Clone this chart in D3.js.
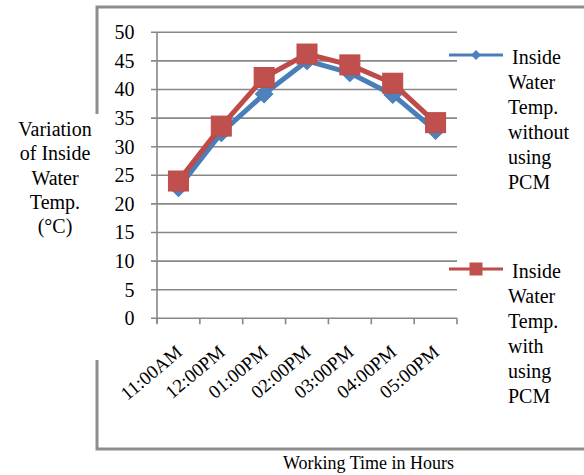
<!DOCTYPE html>
<html>
<head>
<meta charset="utf-8">
<script src="https://cdn.jsdelivr.net/npm/d3@7"></script>
<style>
  body { margin: 0; background: #fff; }
  svg text { font-family: 'Liberation Serif', 'Times New Roman', Times, serif; fill: #000; }
</style>
</head>
<body>
<svg width="584" height="475" font-family="Liberation Serif"></svg>
<script>
let width = 584, height = 475;

// data
let times = ["11:00AM", "12:00PM", "01:00PM", "02:00PM", "03:00PM", "04:00PM", "05:00PM"];
let withoutPCM = [22.8, 32.4, 39.2, 45, 42.9, 39.1, 32.8];
let withPCM = [24, 33.6, 42.1, 46.2, 44.3, 41.1, 34.2];
let yTicks = [0, 5, 10, 15, 20, 25, 30, 35, 40, 45, 50];
let yTitle = ["Variation", "of Inside", "Water", "Temp.", "(°C)"];
let legendWithout = ["Inside", "Water", "Temp.", "without", "using", "PCM"];
let legendWith = ["Inside", "Water", "Temp.", "with", "using", "PCM"];

let svg = d3.select("svg");

let grey = "#878787";
let blue = "#4A7EBB", blueFill = "#4F81BD";
let red = "#BE4B48", redFill = "#C0504D";

// outer frame pieces
let frame = svg.append("g").attr("stroke", "#8e8e8e").attr("stroke-width", 3).attr("fill", "none");
frame.append("path").attr("d", "M97,114 V7 H584");
frame.append("path").attr("d", "M97,360 V449 H584");

let x = d3.scaleBand().domain(times).range([157, 457]);
let y = d3.scaleLinear().domain([0, 50]).range([318.3, 32.3]);

// gridlines
svg.append("g")
    .selectAll("line")
    .data(yTicks)
    .enter()
    .append("line")
    .attr("x1", 151).attr("x2", 457)
    .attr("y1", d => y(d)).attr("y2", d => y(d))
    .attr("stroke", grey)
    .attr("stroke-width", 1.6);

// y axis
svg.append("line")
    .attr("x1", 157).attr("x2", 157)
    .attr("y1", y(50)).attr("y2", y(0) + 5)
    .attr("stroke", grey).attr("stroke-width", 1.6);

svg.append("g")
    .selectAll("text")
    .data(yTicks)
    .enter()
    .append("text")
    .attr("x", 134.5)
    .attr("y", d => y(d))
    .attr("dy", "0.34em")
    .attr("text-anchor", "end")
    .style("font-size", "20px")
    .text(d => d);

// x ticks at band edges
let edges = times.map(d => x(d)).concat([x.range()[1]]);
svg.append("g")
    .selectAll("line")
    .data(edges)
    .enter()
    .append("line")
    .attr("x1", d => d).attr("x2", d => d)
    .attr("y1", y(0)).attr("y2", y(0) + 6)
    .attr("stroke", grey).attr("stroke-width", 1.6);

svg.append("g")
    .selectAll("text")
    .data(times)
    .enter()
    .append("text")
    .attr("transform", d => "translate(" + (x(d) + x.bandwidth() / 2 + 5) + ",354) rotate(-40)")
    .attr("text-anchor", "end")
    .style("font-size", "19px")
    .text(d => d);

// axis titles
svg.append("text")
    .attr("x", 368.5).attr("y", 469)
    .attr("text-anchor", "middle")
    .style("font-size", "18px")
    .text("Working Time in Hours");

svg.append("g")
    .selectAll("text")
    .data(yTitle)
    .enter()
    .append("text")
    .attr("x", 55)
    .attr("y", (d, i) => 136 + i * 24.3)
    .attr("text-anchor", "middle")
    .style("font-size", "20px")
    .text(d => d);

// series
let cx = d => x(d) + x.bandwidth() / 2;
let line = d3.line().x((d, i) => cx(times[i])).y(d => y(d));

svg.append("path")
    .datum(withoutPCM)
    .attr("d", line)
    .attr("fill", "none")
    .attr("stroke", blue)
    .attr("stroke-width", 5)
    .attr("stroke-linejoin", "round");

svg.append("g")
    .selectAll("path")
    .data(withoutPCM)
    .enter()
    .append("path")
    .attr("d", d3.symbol().type(d3.symbolSquare).size(150))
    .attr("transform", (d, i) => "translate(" + cx(times[i]) + "," + y(d) + ") rotate(45)")
    .attr("fill", blueFill)
    .attr("stroke", blue);

svg.append("path")
    .datum(withPCM)
    .attr("d", line)
    .attr("fill", "none")
    .attr("stroke", red)
    .attr("stroke-width", 5)
    .attr("stroke-linejoin", "round");

svg.append("g")
    .selectAll("rect")
    .data(withPCM)
    .enter()
    .append("rect")
    .attr("x", (d, i) => cx(times[i]) - 10)
    .attr("y", d => y(d) - 10)
    .attr("width", 20).attr("height", 20)
    .attr("fill", redFill)
    .attr("stroke", red);

// legend
function legend(ly, lines, color, fill, marker) {
    let g = svg.append("g");
    g.append("line")
        .attr("x1", 449).attr("x2", 503)
        .attr("y1", ly).attr("y2", ly)
        .attr("stroke", color).attr("stroke-width", 3);
    if (marker == "diamond") {
        g.append("path")
            .attr("d", d3.symbol().type(d3.symbolSquare).size(50))
            .attr("transform", "translate(476," + ly + ") rotate(45)")
            .attr("fill", fill);
    } else {
        g.append("rect")
            .attr("x", 476 - 6.5).attr("y", ly - 6.5)
            .attr("width", 13).attr("height", 13)
            .attr("fill", fill);
    }
    g.selectAll("text")
        .data(lines)
        .enter()
        .append("text")
        .attr("x", (d, i) => i == 0 ? 512 : 508)
        .attr("y", (d, i) => ly + 9 + i * 25)
        .style("font-size", "20px")
        .text(d => d);
}
legend(55, legendWithout, blue, blueFill, "diamond");
legend(269, legendWith, red, redFill, "square");
</script>
</body>
</html>
